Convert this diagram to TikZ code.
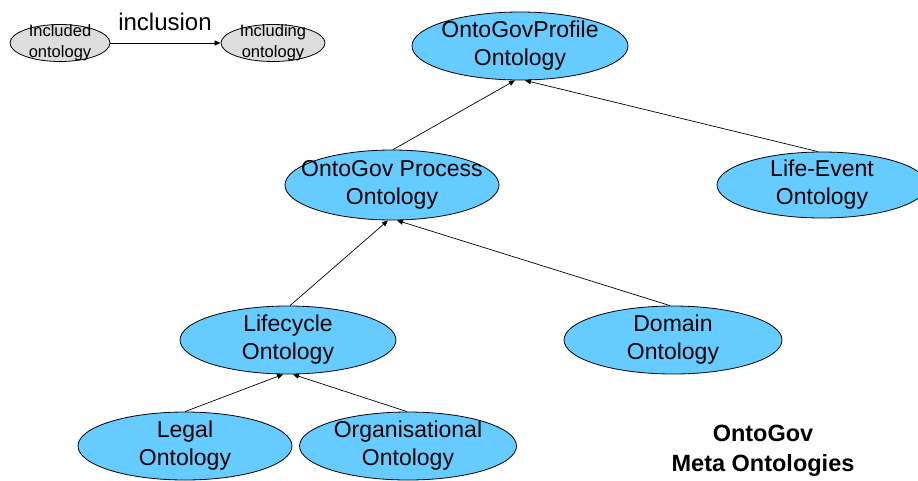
\documentclass[tikz,border=0pt]{standalone}
\usepackage{fontspec}
\setmainfont{Liberation Sans}
\usetikzlibrary{shapes.geometric,arrows.meta,calc}
\definecolor{onto}{HTML}{66CCFF}
\definecolor{legendfill}{HTML}{DDDDDD}
\begin{document}
\begin{tikzpicture}[x=1pt,y=-1pt,
  onto/.style={ellipse,draw=black,line width=0.8pt,fill=onto,inner sep=0pt,
    label={[align=center,font=\fontsize{23}{28}\selectfont]center:#1}},
  legend/.style={ellipse,draw=black,line width=0.8pt,fill=legendfill,inner sep=0pt,
    label={[align=center,font=\fontsize{16.5}{21}\selectfont]center:#1}},
  incl/.style={draw=black,line width=0.7pt,-{Triangle[length=6pt,width=5pt]}}]
\useasboundingbox (0,0) rectangle (918,480);
\node[legend={Included\\ontology},minimum width=100pt,minimum height=37pt] (inc) at (60,43) {};
\node[legend={Including\\ontology},minimum width=104pt,minimum height=37pt] (ing) at (273,43) {};
\node[font=\fontsize{24}{26}\selectfont] (lab) at (165,22) {inclusion};
\draw[incl] (inc) -- (ing);

\node[onto={OntoGovProfile\\Ontology},minimum width=216pt,minimum height=68pt] (prof) at (520,46) {};
\node[onto={OntoGov Process\\Ontology},minimum width=214pt,minimum height=70pt] (proc) at (392,185) {};
\node[onto={Life-Event\\Ontology},minimum width=210pt,minimum height=66pt] (life) at (822,185) {};
\node[onto={Lifecycle\\Ontology},minimum width=216pt,minimum height=68pt] (lc) at (288,340) {};
\node[onto={Domain\\Ontology},minimum width=218pt,minimum height=68pt] (dom) at (673,340) {};
\node[onto={Legal\\Ontology},minimum width=214pt,minimum height=68pt] (leg) at (185,446) {};
\node[onto={Organisational\\Ontology},minimum width=217pt,minimum height=68pt] (org) at (408,446) {};
\node[font=\bfseries\fontsize{23.5}{30}\selectfont,align=center] (title) at (763,451) {OntoGov\\Meta Ontologies};

\draw[incl] ($(proc.north)+(1,0)$) -- ($(prof.south)+(-5,0)$);
\draw[incl] ($(life.north)+(-4,0)$) -- ($(prof.south)+(5,0)$);
\draw[incl] ($(lc.north)+(2,0)$) -- ($(proc.south)+(-4,0)$);
\draw[incl] ($(dom.north)+(-3,0)$) -- ($(proc.south)+(5,0)$);
\draw[incl] ($(leg.north)+(0,0)$) -- ($(lc.south)+(-5,0)$);
\draw[incl] ($(org.north)+(-1,0)$) -- ($(lc.south)+(5,0)$);
\end{tikzpicture}
\end{document}
